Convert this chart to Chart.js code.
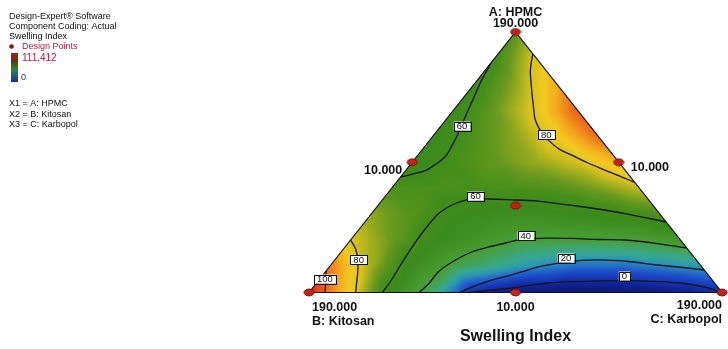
<!DOCTYPE html>
<html lang="en">
<head>
<meta charset="UTF-8">
<title>Swelling Index</title>
<script src="https://cdn.jsdelivr.net/npm/chart.js"></script>
<style>
  body { margin: 0; background: #fff; }
  canvas { display: block; }
</style>
</head>
<body>
<canvas id="ternary" width="728" height="349"></canvas>
<script>
// design points, actual units (HPMC + Kitosan + Karbopol = 210)
const designHPMC     = [190, 10, 10, 100, 100, 10, 70];
const designKitosan  = [10, 190, 10, 100, 10, 100, 70];
const designKarbopol = [10, 10, 190, 10, 100, 100, 70];
const designSwelling = [66, 111.412, 0, 55, 88, 0, 58];

// swelling index on a 10-step grid
// row = HPMC fraction (0 .. 1), column = Karbopol fraction
const rowA00 = [111, 84, 55, 33, -2, -11, -13, -13, -12, -8, 0];
const rowA10 = [98, 74, 54, 38, 29.5, 20.5, 15, 15, 18.5, 23];
const rowA20 = [80, 68.5, 56.7, 48.3, 40.5, 39.5, 40, 41, 45.8];
const rowA30 = [72, 65, 56.6, 53.3, 52.8, 55, 58.6, 64];
const rowA40 = [63.6, 63, 62.5, 63, 64.5, 70, 77];
const rowA50 = [55, 61.8, 67.4, 73, 79, 89];
const rowA60 = [55, 64, 72, 84, 100];
const rowA70 = [57, 68, 82, 102];
const rowA80 = [58, 72, 91];
const rowA90 = [60.5, 81];
const rowA100 = [66];

// contour lines, pairs of [HPMC fraction, Karbopol fraction]
const contour100 = [[0.0825,0],[0.048,0.017],[0,0.0385]];
const contour80Left = [[0.2015,0],[0.167,0.0295],[0.125,0.0555],[0.079,0.0785],[0.0365,0.097],[0,0.113]];
const contour60Left = [[0.885,0],[0.816,0.010],[0.739,0.027],[0.670,0.042],[0.616,0.055],[0.559,0.065],[0.520,0.069],[0.493,0.061],[0.470,0.049],[0.455,0.025],[0.443,0]];
const contour80Right = [[0.9155,0.084],[0.854,0.109],[0.789,0.144],[0.720,0.183],[0.662,0.217],[0.616,0.2545],[0.585,0.287],[0.551,0.330],[0.528,0.371],[0.497,0.427],[0.470,0.481],[0.447,0.529],[0.424,0.575]];
const contour60Mid = [[0,0.178],[0.048,0.1755],[0.098,0.170],[0.159,0.1635],[0.213,0.160],[0.263,0.1595],[0.305,0.1625],[0.336,0.178],[0.355,0.2025],[0.359,0.2555],[0.355,0.3225],[0.351,0.380],[0.336,0.459],[0.3205,0.5395],[0.301,0.621],[0.2706,0.729]];
const contour40 = [[0,0.267],[0.0365,0.273],[0.0825,0.274],[0.121,0.2905],[0.1555,0.316],[0.1747,0.348],[0.190,0.381],[0.2035,0.412],[0.209,0.475],[0.207,0.548],[0.2035,0.598],[0.2015,0.663],[0.188,0.750],[0.171,0.828]];
const contour20 = [[0,0.365],[0.021,0.3835],[0.044,0.413],[0.0614,0.445],[0.0787,0.475],[0.098,0.506],[0.117,0.562],[0.125,0.637],[0.119,0.712],[0.1056,0.791],[0.096,0.856],[0.0864,0.9135]];
const contour0 = [[0,0.387],[0.0058,0.420],[0.0115,0.453],[0.021,0.4967],[0.0365,0.561],[0.042,0.630],[0.0453,0.725],[0.044,0.798],[0.0365,0.881],[0.023,0.940],[0.002,0.996]];

// contour labels
const labelText = ['60', '80', '60', '80', '100', '40', '20', '0'];
const labelA    = [0.639, 0.605, 0.370, 0.125, 0.0518, 0.218, 0.1324, 0.0633];
const labelC    = [0.051, 0.272, 0.218, 0.0577, 0.0126, 0.416, 0.556, 0.732];

const swellingGrid = [rowA00, rowA10, rowA20, rowA30, rowA40, rowA50, rowA60, rowA70, rowA80, rowA90, rowA100];

// colour ramp of the response
const ramp = [
  [-12, '#0c1874'], [-4, '#112296'], [2, '#1634b4'], [9, '#1c4ac8'], [16, '#2470c8'],
  [22, '#2c96b4'], [28, '#36a892'], [34, '#40a468'], [40, '#489e3c'], [45, '#46982c'],
  [55, '#3a8a1c'], [62, '#448e1c'], [68, '#66981e'], [74, '#a0ae1e'], [79, '#d6c020'],
  [85, '#f2ca20'], [91, '#f4ac1e'], [97, '#ef7e1c'], [104, '#e8501a'], [111, '#dc2418']
];
const rampRGB = ramp.map(s => [s[0], parseInt(s[1].slice(1, 3), 16), parseInt(s[1].slice(3, 5), 16), parseInt(s[1].slice(5, 7), 16)]);

function colorFor(v) {
  if (v <= rampRGB[0][0]) return rampRGB[0].slice(1);
  for (let k = 1; k < rampRGB.length; k++) {
    if (v <= rampRGB[k][0]) {
      const p = rampRGB[k - 1], q = rampRGB[k];
      const t = (v - p[0]) / (q[0] - p[0]);
      return [p[1] + (q[1] - p[1]) * t, p[2] + (q[2] - p[2]) * t, p[3] + (q[3] - p[3]) * t];
    }
  }
  return rampRGB[rampRGB.length - 1].slice(1);
}

function gridValue(a, c) {
  const n = swellingGrid.length - 1;
  const u = a * n, v = c * n;
  let i = Math.max(0, Math.min(n - 1, Math.floor(u)));
  let j = Math.max(0, Math.min(n - 1 - i, Math.floor(v)));
  const fu = u - i, fv = v - j;
  const G = (r, k) => swellingGrid[r][k];
  if (fu + fv <= 1 || i + j + 2 > n) {
    return G(i, j) * (1 - fu - fv) + G(i + 1, j) * fu + G(i, j + 1) * fv;
  }
  return G(i + 1, j + 1) * (fu + fv - 1) + G(i + 1, j) * (1 - fv) + G(i, j + 1) * (1 - fu);
}

// ternary -> plot plane
const toXY = (a, c) => ({ x: c + a / 2, y: a });
const pairsToXY = list => list.map(p => toXY(p[0], p[1]));

const designData = designHPMC.map((h, k) => toXY((h - 10) / 180, (designKarbopol[k] - 10) / 180));

const dot = document.createElement('canvas');
dot.width = 12; dot.height = 9;
(function () {
  const d = dot.getContext('2d');
  d.beginPath();
  d.ellipse(6, 4.5, 5, 3.4, 0, 0, Math.PI * 2);
  d.fillStyle = '#c4231c';
  d.fill();
  d.lineWidth = 1;
  d.strokeStyle = '#781010';
  d.stroke();
})();

const fieldPlugin = {
  id: 'field',
  beforeDatasetsDraw(chart) {
    const { ctx, chartArea, scales } = chart;
    const xs = scales.x, ys = scales.y;
    const pad = 6;
    const left = Math.floor(chartArea.left) - pad, top = Math.floor(chartArea.top) - pad;
    const w = Math.ceil(chartArea.right - chartArea.left) + 2 * pad;
    const h = Math.ceil(chartArea.bottom - chartArea.top) + 2 * pad;
    const off = document.createElement('canvas');
    off.width = w; off.height = h;
    const octx = off.getContext('2d');
    const img = octx.createImageData(w, h);
    for (let py = 0; py < h; py++) {
      const yv = ys.getValueForPixel(top + py + 0.5);
      for (let px = 0; px < w; px++) {
        const xv = xs.getValueForPixel(left + px + 0.5);
        let a = Math.max(0, yv), c = Math.max(0, xv - yv / 2), b = Math.max(0, 1 - yv - (xv - yv / 2));
        const s = a + b + c;
        a /= s; c /= s;
        const col = colorFor(gridValue(a, c));
        const o = (py * w + px) * 4;
        img.data[o] = col[0]; img.data[o + 1] = col[1]; img.data[o + 2] = col[2]; img.data[o + 3] = 255;
      }
    }
    octx.putImageData(img, 0, 0);
    const pA = toXY(1, 0), pB = toXY(0, 0), pC = toXY(0, 1);
    ctx.save();
    ctx.beginPath();
    ctx.moveTo(xs.getPixelForValue(pB.x), ys.getPixelForValue(pB.y));
    ctx.lineTo(xs.getPixelForValue(pC.x), ys.getPixelForValue(pC.y));
    ctx.lineTo(xs.getPixelForValue(pA.x), ys.getPixelForValue(pA.y));
    ctx.closePath();
    ctx.clip();
    ctx.filter = 'blur(1.5px)';
    ctx.drawImage(off, left, top);
    ctx.restore();
  }
};

const textPlugin = {
  id: 'texts',
  afterDatasetsDraw(chart) {
    const { ctx, scales } = chart;
    const xs = scales.x, ys = scales.y;
    const pix = (a, c) => { const p = toXY(a, c); return [xs.getPixelForValue(p.x), ys.getPixelForValue(p.y)]; };

    // contour labels
    ctx.save();
    ctx.font = '9.5px "Liberation Sans", Arial, sans-serif';
    ctx.textAlign = 'center';
    ctx.textBaseline = 'middle';
    labelText.forEach((t, k) => {
      const [x, y] = pix(labelA[k], labelC[k]);
      const tw = ctx.measureText(t).width + 6;
      ctx.fillStyle = '#fff';
      ctx.fillRect(x - tw / 2, y - 4.5, tw, 9);
      ctx.strokeStyle = '#111';
      ctx.lineWidth = 1;
      ctx.strokeRect(Math.round(x - tw / 2) + 0.5, Math.round(y - 4.5) + 0.5, Math.round(tw), 9);
      ctx.fillStyle = '#111';
      ctx.fillText(t, x, y + 0.5);
    });

    // vertex and edge labels
    const [Ax, Ay] = pix(1, 0), [Bx, By] = pix(0, 0), [Cx, Cy] = pix(0, 1);
    const [Lx, Ly] = pix(0.5, 0), [Rx, Ry] = pix(0.5, 0.5), [Mx, My] = pix(0, 0.5);
    ctx.fillStyle = '#111';
    ctx.font = 'bold 12.5px "Liberation Sans", Arial, sans-serif';
    ctx.textAlign = 'center';
    ctx.fillText('A: HPMC', Ax, Ay - 19);
    ctx.fillText('190.000', Ax, Ay - 8);
    ctx.fillText('10.000', Mx, My + 15);
    ctx.textAlign = 'right';
    ctx.fillText('10.000', Lx - 10, Ly + 8);
    ctx.fillText('190.000', Cx, Cy + 13);
    ctx.fillText('C: Karbopol', Cx, Cy + 27);
    ctx.textAlign = 'left';
    ctx.fillText('10.000', Rx + 12, Ry + 5);
    ctx.fillText('190.000', Bx + 3, By + 15.5);
    ctx.fillText('B: Kitosan', Bx + 3, By + 29.5);
    ctx.textAlign = 'center';
    ctx.font = 'bold 16px "Liberation Sans", Arial, sans-serif';
    ctx.fillText('Swelling Index', Mx, 337);

    // left legend block
    ctx.textAlign = 'left';
    ctx.font = '9px "Liberation Sans", Arial, sans-serif';
    ctx.fillStyle = '#111';
    ctx.fillText('Design-Expert\u00AE Software', 9, 17);
    ctx.fillText('Component Coding: Actual', 9, 27);
    ctx.fillText('Swelling Index', 9, 37);
    ctx.fillStyle = '#d0143c';
    ctx.fillText('Design Points', 22, 47);
    ctx.beginPath();
    ctx.arc(11.5, 46.5, 2.3, 0, Math.PI * 2);
    ctx.fillStyle = '#8a1010';
    ctx.fill();
    ctx.fillStyle = '#d0143c';
    ctx.font = '10px "Liberation Sans", Arial, sans-serif';
    ctx.fillText(Math.max(...designSwelling).toFixed(3), 22, 58);
    ctx.fillStyle = '#1a3ab0';
    ctx.font = '9px "Liberation Sans", Arial, sans-serif';
    ctx.fillText(String(Math.min(...designSwelling)), 21, 78);
    const g = ctx.createLinearGradient(0, 53, 0, 82);
    g.addColorStop(0, '#b01818');
    g.addColorStop(0.3, '#5a3a10');
    g.addColorStop(0.55, '#2a8a2a');
    g.addColorStop(0.8, '#1a5a8a');
    g.addColorStop(1, '#1a2a9a');
    ctx.fillStyle = g;
    ctx.fillRect(11, 53, 7, 29);
    ctx.fillStyle = '#111';
    ctx.fillText('X1 = A: HPMC', 9, 104);
    ctx.fillText('X2 = B: Kitosan', 9, 115);
    ctx.fillText('X3 = C: Karbopol', 9, 125);
    ctx.restore();
  }
};

const contourStyle = { showLine: true, borderColor: '#161616', borderWidth: 1.3, pointRadius: 0, tension: 0.35, clip: false };

new Chart(document.getElementById('ternary'), {
  type: 'scatter',
  data: {
    datasets: [
      { data: designData, pointStyle: dot, pointRadius: 5, clip: false },
      ...[contour100, contour80Left, contour60Left, contour80Right, contour60Mid, contour40, contour20, contour0]
        .map(list => Object.assign({ data: pairsToXY(list) }, contourStyle)),
      { data: pairsToXY([[0, 0], [0, 1], [1, 0], [0, 0]]), showLine: true, borderColor: '#111', borderWidth: 1.2, pointRadius: 0, clip: false }
    ]
  },
  options: {
    responsive: false,
    animation: false,
    devicePixelRatio: 1,
    events: [],
    layout: { padding: { left: 309, right: 3, top: 32, bottom: 56.5 } },
    scales: {
      x: { type: 'linear', min: 0, max: 1, display: false },
      y: { type: 'linear', min: 0, max: 1, display: false }
    },
    plugins: { legend: { display: false }, tooltip: { enabled: false } }
  },
  plugins: [fieldPlugin, textPlugin]
});
</script>
</body>
</html>
